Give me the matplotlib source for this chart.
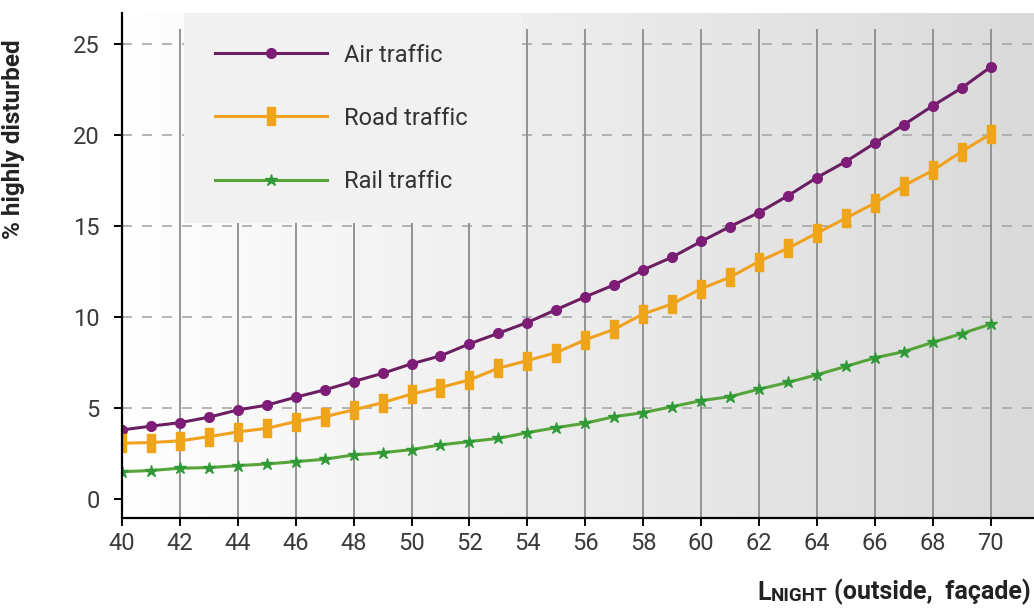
import numpy as np
import matplotlib
matplotlib.use('Agg')
import matplotlib.pyplot as plt
from matplotlib.colors import LinearSegmentedColormap

#### data ########################
lnight = list(range(40, 71))

air_traffic = [3.79, 4.00, 4.19, 4.49, 4.89, 5.15, 5.59, 5.99, 6.45, 6.90,
               7.42, 7.86, 8.52, 9.10, 9.69, 10.40, 11.10, 11.76, 12.58, 13.28,
               14.14, 14.96, 15.73, 16.65, 17.65, 18.53, 19.54, 20.55, 21.59, 22.57,
               23.72]
road_traffic = [3.06, 3.10, 3.19, 3.42, 3.68, 3.88, 4.25, 4.52, 4.89, 5.29,
                5.76, 6.12, 6.54, 7.18, 7.60, 8.04, 8.74, 9.32, 10.16, 10.71,
                11.55, 12.18, 13.04, 13.77, 14.60, 15.42, 16.25, 17.20, 18.04, 19.08,
                20.04]
rail_traffic = [1.50, 1.56, 1.69, 1.72, 1.83, 1.92, 2.05, 2.18, 2.42, 2.54,
                2.71, 2.97, 3.15, 3.33, 3.64, 3.92, 4.16, 4.52, 4.74, 5.07,
                5.40, 5.62, 6.03, 6.40, 6.82, 7.28, 7.75, 8.09, 8.60, 9.08,
                9.60]

x_ticks = list(range(40, 71, 2))
y_ticks = [0, 5, 10, 15, 20, 25]

#### style ####
plt.rcParams['font.family'] = ['Roboto', 'DejaVu Sans']

fig = plt.figure(figsize=(10.34, 6.10), dpi=100)
ax = fig.add_axes([0.118, 0.151, 0.882, 0.828])

x_min, x_max = 40, 71.5
y_min, y_max = -1.04, 26.7

### gradient background
bg = LinearSegmentedColormap.from_list('bg', [(0, '#ffffff'), (0.06, '#fcfcfc'), (1, '#dadada')])
ax.imshow(np.linspace(0, 1, 256).reshape(1, -1), cmap=bg, aspect='auto',
          extent=[x_min, x_max, y_min, y_max], zorder=0, interpolation='bilinear')

### grid: dashed horizontals, solid verticals
for yv in y_ticks[1:]:
    ax.axhline(yv, color='#a8a8a8', linestyle=(0, (6, 6)), linewidth=1.2, zorder=1)
ax.vlines(x_ticks[1:], y_min, 25.8, color='#8c8c8c', linewidth=1.3, zorder=1)

### series
rect = [(-0.4, -1), (0.4, -1), (0.4, 1), (-0.4, 1), (-0.4, -1)]
ax.plot(lnight, air_traffic, color='#6b1f62', linewidth=2.2, marker='o', markersize=7,
        markerfacecolor='#7d1d78', markeredgecolor='#7d1d78', label='Air traffic', zorder=3)
ax.plot(lnight, road_traffic, color='#f0a21e', linewidth=2.2, marker=rect, markersize=13,
        markerfacecolor='#eea51a', markeredgecolor='#eea51a', label='Road traffic', zorder=3)
ax.plot(lnight, rail_traffic, color='#56a43a', linewidth=2.2, marker='*', markersize=9,
        markerfacecolor='#2f9a36', markeredgecolor='#2f9a36', label='Rail traffic', zorder=3)

ax.set_xlim(x_min, x_max)
ax.set_ylim(y_min, y_max)
ax.set_xticks(x_ticks)
ax.set_yticks(y_ticks)

for side in ['top', 'right']:
    ax.spines[side].set_visible(False)
for side in ['left', 'bottom']:
    ax.spines[side].set_linewidth(1.6)
    ax.spines[side].set_zorder(4)

ax.tick_params(axis='both', direction='out', length=6, width=1.4, labelsize=17,
               labelcolor='#3a3a3a')
ax.tick_params(axis='y', pad=10)
ax.tick_params(axis='x', pad=4)

ax.set_ylabel('% highly disturbed', fontsize=17.5, fontweight='bold', color='#222222')
ax.yaxis.set_label_coords(-0.106, 0.75)

### x label with small caps NIGHT
t1 = fig.text(0.997, 0.018, '(outside,  façade)', ha='right', va='baseline',
              fontsize=18, fontweight='bold', color='#222222')
t2 = ax.annotate('NIGHT', xy=(0, 0), xycoords=t1, xytext=(-5, 0), textcoords='offset points',
                 ha='right', va='bottom', fontsize=13.5, fontweight='bold', color='#222222',
                 annotation_clip=False)
t3 = ax.annotate('L', xy=(0, 0), xycoords=t2, ha='right', va='bottom',
                 fontsize=18, fontweight='bold', color='#222222', annotation_clip=False)

leg = ax.legend(loc='upper left', bbox_to_anchor=(0.068, 1.0, 0.371, 0.0), mode='expand',
                borderaxespad=0, fontsize=17, handlelength=4.75, handletextpad=0.72,
                labelspacing=1.7, borderpad=1.3, frameon=True, fancybox=False, framealpha=1,
                facecolor='#f1f1f1', edgecolor='none')
leg.set_zorder(5)
for txt in leg.get_texts():
    txt.set_color('#333333')

fig.savefig('out.png', dpi=100)
